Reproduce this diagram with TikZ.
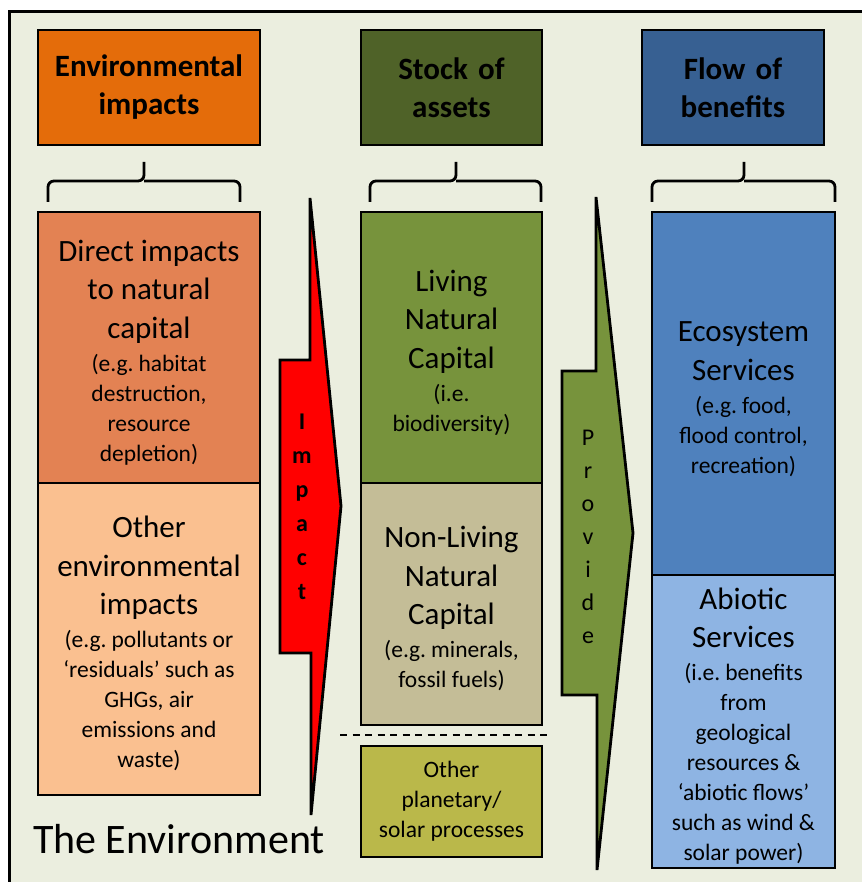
\documentclass[tikz,border=0pt]{standalone}
\usepackage{fontspec}
\setmainfont{Carlito}
\usepackage{tikz}
\usetikzlibrary{positioning}
\definecolor{envbg}{HTML}{EBEEDF}
\definecolor{envhead}{HTML}{E46C0A}
\definecolor{stockhead}{HTML}{4F6228}
\definecolor{flowhead}{HTML}{376092}
\definecolor{directfill}{HTML}{E38253}
\definecolor{otherfill}{HTML}{FAC090}
\definecolor{livingfill}{HTML}{77933C}
\definecolor{nonlivingfill}{HTML}{C4BD97}
\definecolor{planetfill}{HTML}{BAB84A}
\definecolor{ecofill}{HTML}{4F81BD}
\definecolor{abioticfill}{HTML}{8EB4E3}
\def\maintxt{\fontsize{31}{38.5}\selectfont\spaceskip=\fontdimen2\font\relax\rule{0pt}{31pt}}
\def\subtxt{\fontsize{23.5}{30}\selectfont\spaceskip=\fontdimen2\font\relax}

\begin{document}
\begin{tikzpicture}[x=1pt, y=-1pt,
                      every node/.style = {align=center, inner sep=0pt, outer sep=0pt},
                      headbox/.style = {draw, line width=2.8pt, text width=#1,
                        minimum height=115pt, anchor=north west,
                        font=\fontsize{31}{38}\selectfont\bfseries},
                      colbox/.style = {draw, line width=2.8pt, text width=#1},
                      brace line/.style = {line width=2.8pt, rounded corners=6pt},
                      arrow shape/.style = {draw, line width=2.8pt, line join=miter}]
                      \useasboundingbox (0,0) rectangle (862,882);
                      % the environment
                      \fill[envbg] (8,10) rectangle (862,882);
                      \draw[line width=3pt] (9,882) -- (9,11.5) -- (862,11.5);
                      \node[anchor=base west, font=\fontsize{42}{50}\selectfont] (envlabel)
                        at (33,853) {The Environment};
                      % headers
                      \node[headbox=222pt, fill=envhead] (envhd) at (38,30) {Environmental\\impacts};
                      \node[headbox=181pt, fill=stockhead] (stockhd) at (361,30) {Stock of\\assets};
                      \node[headbox=182pt, fill=flowhead] (flowhd) at (642,30) {Flow of\\benefits};
                      % braces
                      \draw[brace line] (48,202) |- (144,181) -- (144,162);
                      \draw[brace line] (240,202) |- (144,181);
                      \draw[brace line] (370,202) |- (456,181) -- (456,162);
                      \draw[brace line] (541,202) |- (456,181);
                      \draw[brace line] (652,202) |- (744,181) -- (744,162);
                      \draw[brace line] (835,202) |- (744,181);
                      % impacts
                      \node[colbox=222pt, minimum height=271pt, fill=directfill,
                        anchor=north west] (direct) at (38,212)
                        {\maintxt Direct impacts\\to natural\\capital\par\vspace{3pt}
                         \subtxt (e.g. habitat\\destruction,\\resource\\depletion)\par};
                      \node[colbox=222pt, minimum height=312pt, fill=otherfill,
                        below=0pt of direct] (otherenv)
                        {\maintxt Other\\environmental\\impacts\par\vspace{3pt}
                         \subtxt (e.g. pollutants or\\‘residuals’ such as\\GHGs, air\\emissions and\\waste)\par};
                      % assets
                      \node[colbox=181pt, minimum height=271pt, fill=livingfill,
                        anchor=north west] (living) at (361,212)
                        {\maintxt Living\\Natural\\Capital\par\vspace{3pt}
                         \subtxt (i.e.\\biodiversity)\par};
                      \node[colbox=181pt, minimum height=242pt, fill=nonlivingfill,
                        below=0pt of living] (nonliving)
                        {\maintxt Non-Living\\Natural\\Capital\par\vspace{3pt}
                         \subtxt (e.g. minerals,\\fossil fuels)\par};
                      \draw[dashed, line width=1.5pt, dash pattern=on 7pt off 5.5pt]
                        (340,735) -- (552,735);
                      \node[colbox=181pt, minimum height=111pt, fill=planetfill,
                        anchor=north west] (planet) at (361,746)
                        {\subtxt Other\\planetary/\\solar processes\par};
                      % benefits
                      \node[colbox=183pt, minimum height=363pt, fill=ecofill,
                        anchor=north west] (eco) at (652,212)
                        {\maintxt Ecosystem\\Services\par\vspace{3pt}
                         \subtxt (e.g. food,\\flood control,\\recreation)\par};
                      \node[colbox=183pt, minimum height=293pt, fill=abioticfill,
                        below=0pt of eco] (abiotic)
                        {\maintxt Abiotic\\Services\par\vspace{3pt}
                         \subtxt (i.e. benefits\\from\\geological\\resources \&\\‘abiotic flows’\\such as wind \&\\solar power)\par};
                      % arrows
                      \draw[arrow shape, fill=red] (310,198) -- (341,506) -- (311,815) -- (311,653)
                        -- (280,653) -- (280,360) -- (310,360) -- cycle;
                      \node[font=\fontsize{24}{34}\selectfont\bfseries] (impacttxt)
                        at (302,507) {I\\m\\p\\a\\c\\t};
                      \draw[arrow shape, fill=livingfill] (596,197) -- (633,533) -- (597,870) -- (597,695)
                        -- (562,695) -- (562,371) -- (596,371) -- cycle;
                      \node[font=\fontsize{24}{33}\selectfont] (providetxt)
                        at (588,537) {P\\r\\o\\v\\i\\d\\e};
                    \end{tikzpicture}
\end{document}
